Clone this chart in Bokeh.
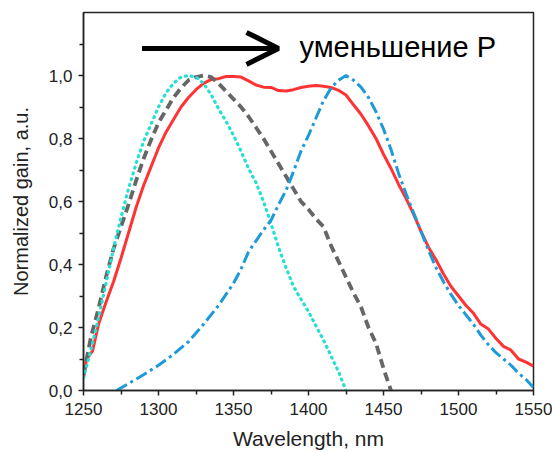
from bokeh.plotting import figure
from bokeh.models import FixedTicker, Range1d, Arrow, OpenHead, Label
from bokeh.embed import file_html
from bokeh.resources import INLINE

# ---- data ----
wl_cyan = [1250, 1255, 1260, 1265, 1270, 1275, 1280, 1285, 1290, 1295, 1300, 1305,
           1310, 1315, 1320, 1325, 1330, 1335, 1340, 1345, 1350, 1355, 1360, 1365,
           1370, 1375, 1380, 1385, 1390, 1395, 1400, 1405, 1410, 1415, 1420, 1425]
g_cyan = [0.04, 0.13, 0.23, 0.34, 0.45, 0.55, 0.64, 0.72, 0.79, 0.845, 0.90, 0.945,
          0.975, 0.995, 1.0, 0.995, 0.975, 0.94, 0.895, 0.855, 0.81, 0.76, 0.705, 0.66,
          0.60, 0.53, 0.455, 0.39, 0.33, 0.29, 0.25, 0.205, 0.16, 0.11, 0.06, 0.0]

wl_grey = [1250, 1255, 1260, 1265, 1270, 1275, 1280, 1285, 1290, 1295, 1300, 1305,
           1310, 1315, 1320, 1325, 1330, 1335, 1340, 1345, 1350, 1355, 1360, 1365,
           1370, 1375, 1380, 1385, 1390, 1395, 1400, 1405, 1410, 1415, 1420, 1425,
           1430, 1435, 1440, 1445, 1450, 1455]
g_grey = [0.05, 0.17, 0.26, 0.36, 0.45, 0.52, 0.59, 0.665, 0.735, 0.795, 0.85, 0.89,
          0.93, 0.96, 0.985, 0.995, 1.0, 0.995, 0.975, 0.95, 0.925, 0.90, 0.87, 0.835,
          0.80, 0.76, 0.72, 0.68, 0.64, 0.60, 0.575, 0.545, 0.52, 0.46, 0.41, 0.36,
          0.31, 0.265, 0.20, 0.15, 0.07, 0.0]

wl_red = [1250, 1252, 1256, 1260, 1265, 1270, 1275, 1280, 1285, 1290, 1295, 1300,
          1305, 1310, 1315, 1320, 1325, 1330, 1335, 1340, 1345, 1350, 1355, 1360,
          1365, 1370, 1375, 1380, 1385, 1390, 1395, 1400, 1405, 1410, 1415, 1420,
          1425, 1430, 1435, 1440, 1445, 1450, 1455, 1460, 1465, 1470, 1475, 1480,
          1485, 1490, 1495, 1500, 1505, 1510, 1515, 1520, 1525, 1530, 1535, 1540,
          1545, 1550]
g_red = [0.04, 0.10, 0.125, 0.21, 0.28, 0.345, 0.42, 0.50, 0.58, 0.65, 0.71, 0.77,
         0.82, 0.86, 0.90, 0.93, 0.955, 0.975, 0.987, 0.99, 0.997, 0.997, 0.995, 0.983,
         0.97, 0.963, 0.962, 0.952, 0.951, 0.955, 0.962, 0.966, 0.968, 0.966, 0.962, 0.953,
         0.938, 0.907, 0.877, 0.84, 0.80, 0.75, 0.705, 0.655, 0.61, 0.56, 0.505, 0.455,
         0.415, 0.37, 0.33, 0.30, 0.27, 0.245, 0.21, 0.195, 0.165, 0.14, 0.128, 0.10,
         0.09, 0.077]

wl_blue = [1272, 1280, 1290, 1300, 1310, 1320, 1330, 1340, 1345, 1350, 1355, 1360,
           1365, 1370, 1375, 1380, 1385, 1390, 1395, 1400, 1405, 1410, 1415, 1420,
           1425, 1430, 1435, 1440, 1445, 1450, 1455, 1460, 1465, 1470, 1475, 1480,
           1485, 1490, 1495, 1500, 1505, 1510, 1515, 1520, 1525, 1530, 1535, 1540,
           1545, 1550]
g_blue = [0.0, 0.022, 0.05, 0.08, 0.115, 0.155, 0.21, 0.27, 0.305, 0.34, 0.385, 0.44,
          0.475, 0.51, 0.54, 0.59, 0.635, 0.695, 0.76, 0.81, 0.865, 0.92, 0.96, 0.985,
          1.0, 0.985, 0.963, 0.93, 0.885, 0.83, 0.765, 0.69, 0.625, 0.565, 0.505, 0.445,
          0.39, 0.345, 0.305, 0.27, 0.24, 0.21, 0.175, 0.145, 0.12, 0.10, 0.08, 0.055,
          0.035, 0.01]

x_ticks = [1250, 1300, 1350, 1400, 1450, 1500, 1550]
x_minor = [1275, 1325, 1375, 1425, 1475, 1525]
y_ticks = [0.0, 0.2, 0.4, 0.6, 0.8, 1.0]
y_tick_labels = ["0,0", "0,2", "0,4", "0,6", "0,8", "1,0"]
y_minor = [0.1, 0.3, 0.5, 0.7, 0.9, 1.1]

x_label = "Wavelength, nm"
y_label = "Normalized gain, a.u."
note_text = "уменьшение P"
arrow_x0, arrow_x1, arrow_y = 1289, 1380, 1.086
note_x, note_y = 1394, 1.089

FONT = "Liberation Sans"

p = figure(width=552, height=452, output_backend="svg", toolbar_location=None,
           x_range=Range1d(1250, 1550), y_range=Range1d(0, 1.2))
p.min_border_left = 83
p.min_border_right = 19
p.min_border_top = 12
p.min_border_bottom = 61
p.background_fill_color = "white"
p.border_fill_color = "white"
p.outline_line_color = "#222222"
p.outline_line_width = 1.5
p.xgrid.visible = False
p.ygrid.visible = False

p.xaxis.ticker = FixedTicker(ticks=x_ticks, minor_ticks=x_minor)
p.yaxis.ticker = FixedTicker(ticks=y_ticks, minor_ticks=y_minor)
p.yaxis.major_label_overrides = {t: s for t, s in zip(y_ticks, y_tick_labels)}
p.xaxis.axis_label = x_label
p.yaxis.axis_label = y_label

for ax in (p.xaxis[0], p.yaxis[0]):
    ax.axis_line_color = "#222222"
    ax.axis_line_width = 1.5
    ax.major_tick_line_color = "#222222"
    ax.minor_tick_line_color = "#222222"
    ax.major_tick_line_width = 1.5
    ax.minor_tick_line_width = 1.5
    ax.major_tick_in = 0
    ax.major_tick_out = 5
    ax.minor_tick_in = 0
    ax.minor_tick_out = 4
    ax.major_label_text_font = FONT
    ax.major_label_text_font_size = "17px"
    ax.major_label_text_color = "#222222"
    ax.axis_label_text_font = FONT
    ax.axis_label_text_font_style = "normal"
    ax.axis_label_text_color = "#222222"

p.xaxis.axis_label_text_font_size = "21px"
p.yaxis.axis_label_text_font_size = "20px"
p.xaxis.major_label_standoff = 7
p.xaxis.axis_label_standoff = 9
p.yaxis.major_label_standoff = 6
p.yaxis.axis_label_standoff = 14

p.line(wl_red, g_red, line_color="#FF3333", line_width=3)
p.line(wl_grey, g_grey, line_color="#666666", line_width=3.8, line_dash="9 5")
p.line(wl_cyan, g_cyan, line_color="#22E0D2", line_width=3.2, line_dash="1 5",
       line_cap="round")
p.line(wl_blue, g_blue, line_color="#1E9AD8", line_width=3, line_dash="12 4 3 4")

p.add_layout(Arrow(end=OpenHead(size=32, line_width=5, line_color="black"),
                   x_start=arrow_x0, y_start=arrow_y, x_end=arrow_x1, y_end=arrow_y,
                   line_width=5, line_color="black"))
p.add_layout(Label(x=note_x, y=note_y, text=note_text, text_font=FONT,
                   text_font_size="29px", text_color="black",
                   text_baseline="alphabetic", text_align="left"))

open("out.html", "w").write(file_html(p, INLINE))
